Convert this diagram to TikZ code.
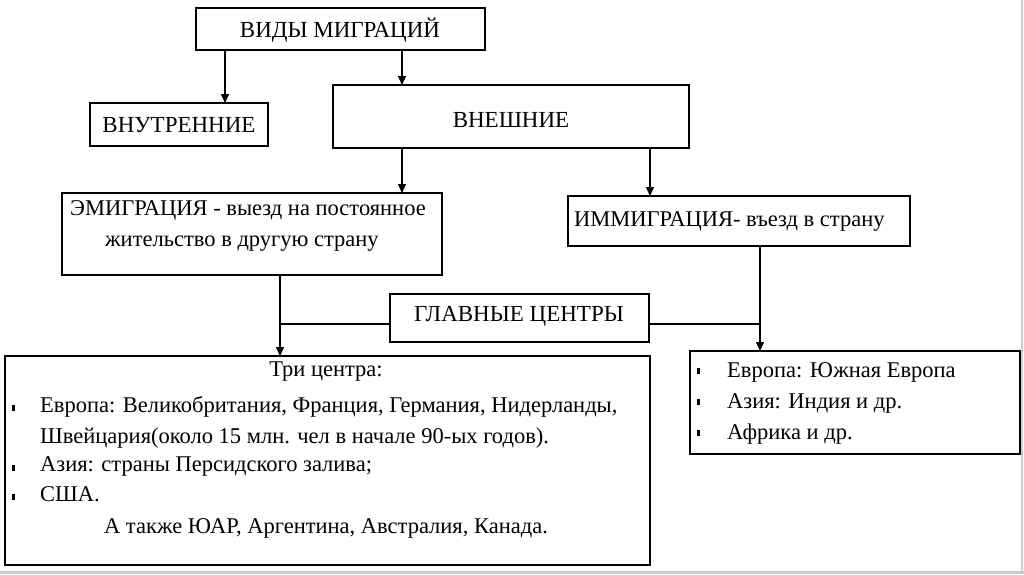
\documentclass[tikz,border=0pt]{standalone}
\usepackage{fontspec}
\setmainfont{Liberation Serif}
\usetikzlibrary{arrows.meta}
\begin{document}
\begin{tikzpicture}[x=1pt,y=-1pt,
  bx/.style={draw,line width=1.4pt},
  ar/.style={line width=1.2pt,-{Triangle[length=9pt,width=8pt]}},
  ln/.style={line width=1.2pt},
  t/.style={font=\fontsize{23}{30}\selectfont,inner sep=0pt},
  s/.style={font=\fontsize{22.5}{31}\selectfont,inner sep=0pt,align=left,anchor=north west}]
\useasboundingbox (0,0) rectangle (1024,574);
\draw[gray!40,line width=3pt] (0,572) -- (1024,572);
\draw[gray!40,line width=2pt] (1022,0) -- (1022,574);
\draw[bx] (196,8) rectangle (485,50); \node[t] (vid) at (340,30) {ВИДЫ МИГРАЦИЙ};
\draw[bx] (90,103) rectangle (268,146); \node[t] (vnu) at (179,125) {ВНУТРЕННИЕ};
\draw[bx] (333,85) rectangle (689,148); \node[t] (vne) at (511,120) {ВНЕШНИЕ};
\draw[bx] (62,193) rectangle (442,275);
\node[s] (emi) at (70,200) {ЭМИГРАЦИЯ - выезд на постоянное\\\hspace*{35pt}жительство в другую страну};
\draw[bx] (568,196) rectangle (910,246); \node[s,anchor=west] (imm) at (574,221) {ИММИГРАЦИЯ- въезд в страну};
\draw[bx] (390,294) rectangle (649,342); \node[t] (gc) at (519,316) {ГЛАВНЫЕ ЦЕНТРЫ};
\draw[bx] (5,356) rectangle (650,565);
\node[s,anchor=north] (tri) at (326,362) {Три центра:};
\node[s] (l1) at (40,396) {Европа: Великобритания, Франция, Германия, Нидерланды,\\Швейцария(около 15 млн. чел в начале 90-ых годов).};
\node[s] (l2) at (40,456) {Азия: страны Персидского залива;};
\node[s] (l3) at (40,486) {США.};
\node[s,anchor=north] (l4) at (326,518) {А также ЮАР, Аргентина, Австралия, Канада.};
\foreach \y in {405,465,494} \fill (12,\y) rectangle (15,\y+6);
\draw[bx] (690,351) rectangle (1020,454);
\node[s] (r1) at (727,362) {Европа: Южная Европа};
\node[s] (r2) at (727,393) {Азия: Индия и др.};
\node[s] (r3) at (727,424) {Африка и др.};
\foreach \y in {368,399,430} \fill (697,\y) rectangle (700,\y+6);
\draw[ar] (225,50) -- (225,103);
\draw[ar] (402,50) -- (402,85);
\draw[ar] (402,148) -- (402,193);
\draw[ar] (650,148) -- (650,196);
\draw[ar] (280,275) -- (280,356);
\draw[ar] (760,246) -- (760,351);
\draw[ln] (280,324) -- (390,324);
\draw[ln] (649,324) -- (760,324);
\end{tikzpicture}
\end{document}
